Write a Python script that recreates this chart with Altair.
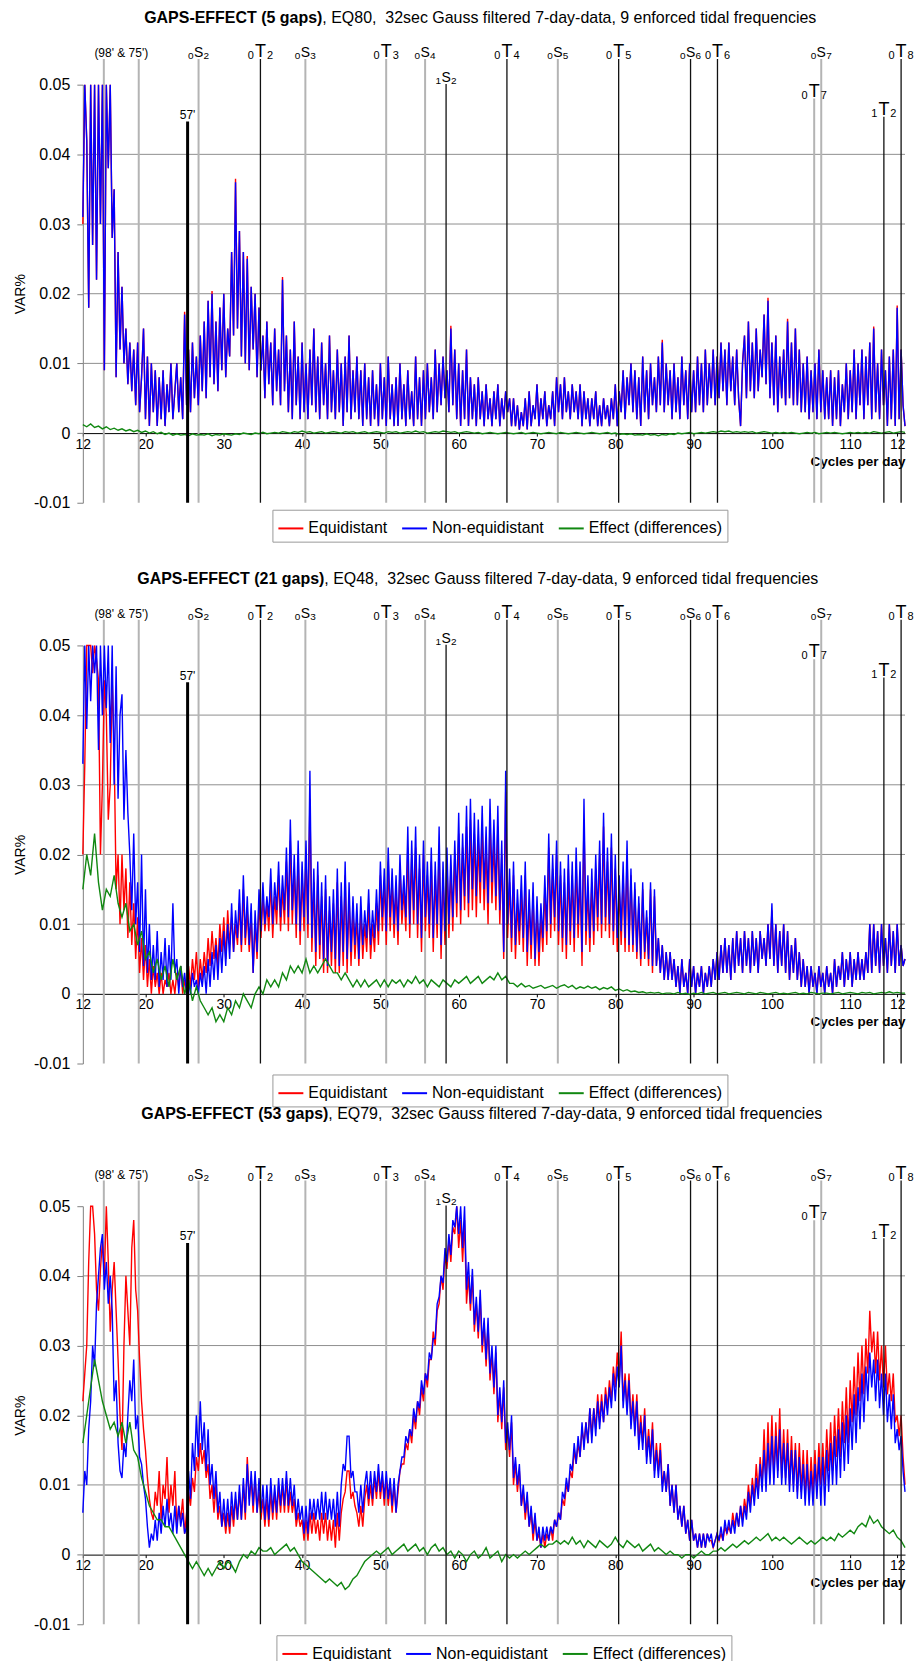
import altair as alt
import pandas as pd

FONT = "Liberation Sans"

# frequency grids (cycles per day)
FREQ = [12 + 0.5 * i for i in range(211)]        # 0.5 cpd spacing
FREQ_FINE = [12 + 0.25 * i for i in range(421)]  # 0.25 cpd spacing
X_DOMAIN = [12, 117]
Y_DOMAIN = [-0.01, 0.05]
X_TICKS = [12, 20, 30, 40, 50, 60, 70, 80, 90, 100, 110, 116]
Y_TICKS = [-0.01, 0, 0.01, 0.02, 0.03, 0.04, 0.05]
GRID_Y = [0.01, 0.02, 0.03, 0.04]

SERIES = ["Equidistant", "Non-equidistant", "Effect (differences)"]
COLORS = ["#ff0000", "#0000ff", "#118811"]

# ---------------- panel 1 (5 gaps), 0.25 cpd ----------------
P1_EQUI = [
    0.030, 0.050, 0.042, 0.018, 0.050, 0.027, 0.050, 0.022, 0.050, 0.030, 0.050, 0.009, 0.050, 0.038, 0.050, 0.028, 0.035, 0.008, 0.026, 0.012,
    0.021, 0.010, 0.015, 0.007, 0.013, 0.006, 0.012, 0.004, 0.013, 0.003, 0.008, 0.015, 0.002, 0.011, 0.001, 0.010, 0.003, 0.009, 0.001, 0.008,
    0.002, 0.009, 0.001, 0.007, 0.003, 0.010, 0.002, 0.006, 0.010, 0.003, 0.008, 0.002, 0.0174, 0.004, 0.012, 0.003, 0.013, 0.005, 0.011, 0.004,
    0.014, 0.006, 0.016, 0.005, 0.019, 0.008, 0.0204, 0.007, 0.016, 0.006, 0.018, 0.009, 0.020, 0.008, 0.015, 0.011, 0.026, 0.014, 0.0365, 0.015,
    0.029, 0.011, 0.026, 0.010, 0.0254, 0.009, 0.021, 0.012, 0.020, 0.008, 0.018, 0.009, 0.014, 0.005, 0.016, 0.007, 0.013, 0.004, 0.015, 0.006,
    0.012, 0.004, 0.0224, 0.006, 0.014, 0.003, 0.012, 0.002, 0.016, 0.004, 0.011, 0.002, 0.013, 0.003, 0.010, 0.002, 0.012, 0.004, 0.015, 0.003,
    0.011, 0.002, 0.013, 0.004, 0.010, 0.002, 0.014, 0.003, 0.009, 0.002, 0.012, 0.003, 0.010, 0.001, 0.011, 0.003, 0.014, 0.002, 0.009, 0.003,
    0.011, 0.002, 0.009, 0.001, 0.010, 0.002, 0.008, 0.001, 0.009, 0.002, 0.007, 0.001, 0.010, 0.002, 0.008, 0.001, 0.011, 0.002, 0.007, 0.001,
    0.008, 0.001, 0.010, 0.002, 0.007, 0.001, 0.009, 0.002, 0.006, 0.001, 0.011, 0.002, 0.008, 0.001, 0.009, 0.002, 0.010, 0.003, 0.008, 0.002,
    0.012, 0.003, 0.010, 0.004, 0.011, 0.005, 0.009, 0.003, 0.0154, 0.004, 0.012, 0.002, 0.010, 0.001, 0.009, 0.002, 0.012, 0.001, 0.008, 0.002,
    0.007, 0.001, 0.008, 0.002, 0.006, 0.001, 0.007, 0.002, 0.005, 0.001, 0.006, 0.002, 0.007, 0.001, 0.005, 0.002, 0.006, 0.003, 0.005, 0.001,
    0.005, 0.001, 0.004, 0.0005, 0.003, 0.001, 0.005, 0.0005, 0.006, 0.001, 0.004, 0.002, 0.007, 0.001, 0.005, 0.002, 0.006, 0.001, 0.004, 0.002,
    0.006, 0.001, 0.008, 0.003, 0.007, 0.002, 0.008, 0.003, 0.006, 0.002, 0.007, 0.003, 0.006, 0.002, 0.007, 0.001, 0.006, 0.002, 0.005, 0.001,
    0.005, 0.002, 0.006, 0.001, 0.004, 0.001, 0.005, 0.002, 0.004, 0.001, 0.005, 0.002, 0.007, 0.001, 0.006, 0.003, 0.009, 0.002, 0.008, 0.004,
    0.010, 0.003, 0.009, 0.002, 0.008, 0.001, 0.011, 0.003, 0.009, 0.002, 0.010, 0.004, 0.008, 0.003, 0.011, 0.004, 0.0134, 0.003, 0.010, 0.004,
    0.009, 0.002, 0.010, 0.003, 0.008, 0.002, 0.011, 0.004, 0.009, 0.002, 0.010, 0.003, 0.009, 0.003, 0.011, 0.004, 0.010, 0.003, 0.012, 0.004,
    0.010, 0.005, 0.012, 0.004, 0.011, 0.005, 0.013, 0.006, 0.012, 0.004, 0.013, 0.006, 0.011, 0.004, 0.012, 0.005, 0.001, 0.010, 0.014, 0.005,
    0.016, 0.006, 0.013, 0.005, 0.015, 0.006, 0.012, 0.008, 0.017, 0.007, 0.0194, 0.005, 0.013, 0.004, 0.014, 0.003, 0.011, 0.005, 0.012, 0.004,
    0.0164, 0.005, 0.013, 0.004, 0.015, 0.004, 0.012, 0.003, 0.010, 0.003, 0.011, 0.002, 0.009, 0.003, 0.010, 0.002, 0.012, 0.003, 0.009, 0.002,
    0.008, 0.002, 0.009, 0.001, 0.008, 0.002, 0.009, 0.001, 0.007, 0.003, 0.010, 0.002, 0.009, 0.003, 0.012, 0.002, 0.010, 0.004, 0.012, 0.002,
    0.011, 0.004, 0.013, 0.002, 0.0153, 0.003, 0.010, 0.002, 0.012, 0.004, 0.009, 0.001, 0.011, 0.002, 0.012, 0.001, 0.0183, 0.002, 0.012, 0.004,
    0.001,
]
P1_NONEQ = [
    0.031, 0.050, 0.042, 0.018, 0.050, 0.027, 0.050, 0.022, 0.050, 0.030, 0.050, 0.009, 0.050, 0.038, 0.050, 0.028, 0.035, 0.008, 0.026, 0.012,
    0.021, 0.010, 0.015, 0.007, 0.013, 0.006, 0.012, 0.004, 0.013, 0.003, 0.008, 0.015, 0.002, 0.011, 0.001, 0.010, 0.003, 0.009, 0.001, 0.008,
    0.002, 0.009, 0.001, 0.007, 0.003, 0.010, 0.002, 0.006, 0.010, 0.003, 0.008, 0.002, 0.017, 0.004, 0.012, 0.003, 0.013, 0.005, 0.011, 0.004,
    0.014, 0.006, 0.016, 0.005, 0.019, 0.008, 0.020, 0.007, 0.016, 0.006, 0.018, 0.009, 0.020, 0.008, 0.015, 0.011, 0.026, 0.014, 0.036, 0.015,
    0.029, 0.011, 0.026, 0.010, 0.025, 0.009, 0.021, 0.012, 0.020, 0.008, 0.018, 0.009, 0.014, 0.005, 0.016, 0.007, 0.013, 0.004, 0.015, 0.006,
    0.012, 0.004, 0.022, 0.006, 0.014, 0.003, 0.012, 0.002, 0.016, 0.004, 0.011, 0.002, 0.013, 0.003, 0.010, 0.002, 0.012, 0.004, 0.015, 0.003,
    0.011, 0.002, 0.013, 0.004, 0.010, 0.002, 0.014, 0.003, 0.009, 0.002, 0.012, 0.003, 0.010, 0.001, 0.011, 0.003, 0.014, 0.002, 0.009, 0.003,
    0.011, 0.002, 0.009, 0.001, 0.010, 0.002, 0.008, 0.001, 0.009, 0.002, 0.007, 0.001, 0.010, 0.002, 0.008, 0.001, 0.011, 0.002, 0.007, 0.001,
    0.008, 0.001, 0.010, 0.002, 0.007, 0.001, 0.009, 0.002, 0.006, 0.001, 0.011, 0.002, 0.008, 0.001, 0.009, 0.002, 0.010, 0.003, 0.008, 0.002,
    0.012, 0.003, 0.010, 0.004, 0.011, 0.005, 0.009, 0.003, 0.015, 0.004, 0.012, 0.002, 0.010, 0.001, 0.009, 0.002, 0.012, 0.001, 0.008, 0.002,
    0.007, 0.001, 0.008, 0.002, 0.006, 0.001, 0.007, 0.002, 0.005, 0.001, 0.006, 0.002, 0.007, 0.001, 0.005, 0.002, 0.006, 0.003, 0.005, 0.001,
    0.005, 0.001, 0.004, 0.0005, 0.003, 0.001, 0.005, 0.0005, 0.006, 0.001, 0.004, 0.002, 0.007, 0.001, 0.005, 0.002, 0.006, 0.001, 0.004, 0.002,
    0.006, 0.001, 0.008, 0.003, 0.007, 0.002, 0.008, 0.003, 0.006, 0.002, 0.007, 0.003, 0.006, 0.002, 0.007, 0.001, 0.006, 0.002, 0.005, 0.001,
    0.005, 0.002, 0.006, 0.001, 0.004, 0.001, 0.005, 0.002, 0.004, 0.001, 0.005, 0.002, 0.007, 0.001, 0.006, 0.003, 0.009, 0.002, 0.008, 0.004,
    0.010, 0.003, 0.009, 0.002, 0.008, 0.001, 0.011, 0.003, 0.009, 0.002, 0.010, 0.004, 0.008, 0.003, 0.011, 0.004, 0.013, 0.003, 0.010, 0.004,
    0.009, 0.002, 0.010, 0.003, 0.008, 0.002, 0.011, 0.004, 0.009, 0.002, 0.010, 0.003, 0.009, 0.003, 0.011, 0.004, 0.010, 0.003, 0.012, 0.004,
    0.010, 0.005, 0.012, 0.004, 0.011, 0.005, 0.013, 0.006, 0.012, 0.004, 0.013, 0.006, 0.011, 0.004, 0.012, 0.005, 0.001, 0.010, 0.014, 0.005,
    0.016, 0.006, 0.013, 0.005, 0.015, 0.006, 0.012, 0.008, 0.017, 0.007, 0.019, 0.005, 0.013, 0.004, 0.014, 0.003, 0.011, 0.005, 0.012, 0.004,
    0.016, 0.005, 0.013, 0.004, 0.015, 0.004, 0.012, 0.003, 0.010, 0.003, 0.011, 0.002, 0.009, 0.003, 0.010, 0.002, 0.012, 0.003, 0.009, 0.002,
    0.008, 0.002, 0.009, 0.001, 0.008, 0.002, 0.009, 0.001, 0.007, 0.003, 0.010, 0.002, 0.009, 0.003, 0.012, 0.002, 0.010, 0.004, 0.012, 0.002,
    0.011, 0.004, 0.013, 0.002, 0.015, 0.003, 0.010, 0.002, 0.012, 0.004, 0.009, 0.001, 0.011, 0.002, 0.012, 0.001, 0.018, 0.002, 0.012, 0.004,
    0.001,
]
# 0.5 cpd
P1_EFFECT = [
    0.0012, 0.0009, 0.0013, 0.0008, 0.0010, 0.0006, 0.0009, 0.0005, 0.0007, 0.0004,
    0.0006, 0.0003, 0.0005, 0.0002, 0.0004, 0.0001, 0.0003, 0.0000, 0.0002, -0.0001,
    0.0001, -0.0002, 0.0000, -0.0003, -0.0001, -0.0003, -0.0002, -0.0004, -0.0001, -0.0003,
    -0.0002, -0.0003, -0.0001, -0.0004, -0.0002, -0.0003, -0.0001, -0.0002, -0.0003, -0.0001,
    -0.0002, 0.0000, -0.0001, -0.0002, 0.0000, -0.0001, 0.0001, -0.0001, 0.0000, 0.0001,
    0.0000, 0.0002, 0.0001, 0.0000, 0.0002, 0.0001, 0.0003, 0.0001, 0.0002, 0.0000,
    0.0001, 0.0002, 0.0000, 0.0001, 0.0002, 0.0001, 0.0000, 0.0002, 0.0001, 0.0002,
    0.0000, 0.0001, 0.0002, 0.0000, 0.0001, 0.0002, 0.0001, 0.0000, 0.0002, 0.0001,
    0.0002, 0.0000, 0.0001, 0.0002, 0.0001, 0.0003, 0.0001, 0.0002, 0.0000, 0.0001,
    0.0002, 0.0001, 0.0003, 0.0002, 0.0001, 0.0002, 0.0000, 0.0001, 0.0002, 0.0001,
    0.0000, 0.0001, -0.0001, 0.0000, 0.0001, 0.0000, -0.0001, 0.0000, 0.0001, 0.0000,
    -0.0001, 0.0000, 0.0001, -0.0001, 0.0000, 0.0001, 0.0000, -0.0001, 0.0000, 0.0001,
    0.0000, -0.0001, 0.0001, 0.0000, -0.0001, 0.0000, 0.0001, 0.0000, -0.0001, 0.0000,
    0.0001, 0.0000, -0.0001, 0.0000, 0.0001, -0.0001, 0.0000, -0.0002, -0.0001, -0.0002,
    -0.0001, -0.0003, -0.0002, -0.0003, -0.0001, -0.0003, -0.0002, -0.0004, -0.0002, -0.0003,
    -0.0001, -0.0002, 0.0000, -0.0001, 0.0000, 0.0001, -0.0001, 0.0000, 0.0001, 0.0000,
    0.0001, 0.0002, 0.0001, 0.0003, 0.0002, 0.0003, 0.0001, 0.0002, 0.0001, 0.0002,
    0.0001, 0.0002, 0.0000, 0.0001, 0.0002, 0.0001, 0.0000, 0.0001, 0.0000, 0.0001,
    0.0000, 0.0001, 0.0000, -0.0001, 0.0000, 0.0001, 0.0000, 0.0001, -0.0001, 0.0000,
    0.0001, 0.0000, 0.0001, 0.0000, -0.0001, 0.0000, 0.0001, 0.0000, 0.0001, 0.0000,
    0.0001, 0.0000, 0.0002, 0.0001, 0.0000, 0.0001, 0.0002, 0.0000, 0.0001, 0.0002,
    0.0001,
]

# ---------------- panel 2 (21 gaps), 0.25 cpd ----------------
P2_EQUI = [
    0.020, 0.033, 0.050, 0.050, 0.050, 0.046, 0.050, 0.048, 0.045, 0.020, 0.030, 0.045, 0.040, 0.025, 0.030, 0.045, 0.035, 0.015, 0.020, 0.010,
    0.020, 0.012, 0.018, 0.008, 0.016, 0.007, 0.013, 0.005, 0.011, 0.003, 0.008, 0.002, 0.007, 0.001, 0.005, 0.000, 0.004, 0.001, 0.003, 0.000,
    0.003, 0.000, 0.002, 0.001, 0.003, 0.000, 0.002, 0.000, 0.003, 0.001, 0.004, 0.000, 0.002, 0.000, 0.004, 0.001, 0.005, 0.002, 0.006, 0.001,
    0.005, 0.002, 0.006, 0.003, 0.008, 0.004, 0.009, 0.005, 0.008, 0.004, 0.010, 0.006, 0.011, 0.005, 0.012, 0.007, 0.011, 0.006, 0.010, 0.007,
    0.013, 0.006, 0.015, 0.007, 0.012, 0.006, 0.011, 0.003, 0.010, 0.005, 0.013, 0.008, 0.014, 0.009, 0.013, 0.009, 0.016, 0.008, 0.014, 0.010,
    0.017, 0.009, 0.015, 0.010, 0.019, 0.009, 0.022, 0.010, 0.018, 0.008, 0.020, 0.007, 0.017, 0.009, 0.020, 0.008, 0.028, 0.006, 0.016, 0.004,
    0.017, 0.005, 0.014, 0.003, 0.015, 0.003, 0.012, 0.004, 0.013, 0.003, 0.016, 0.003, 0.014, 0.004, 0.017, 0.003, 0.014, 0.004, 0.012, 0.005,
    0.011, 0.004, 0.012, 0.005, 0.010, 0.006, 0.013, 0.005, 0.010, 0.006, 0.013, 0.007, 0.017, 0.009, 0.016, 0.007, 0.019, 0.009, 0.016, 0.008,
    0.015, 0.007, 0.018, 0.010, 0.015, 0.009, 0.021, 0.008, 0.020, 0.010, 0.021, 0.008, 0.018, 0.006, 0.020, 0.009, 0.017, 0.008, 0.019, 0.006,
    0.017, 0.008, 0.021, 0.005, 0.017, 0.007, 0.019, 0.008, 0.018, 0.009, 0.020, 0.011, 0.023, 0.010, 0.021, 0.012, 0.024, 0.011, 0.025, 0.012,
    0.023, 0.011, 0.022, 0.013, 0.024, 0.012, 0.021, 0.010, 0.025, 0.013, 0.022, 0.012, 0.024, 0.010, 0.020, 0.005, 0.029, 0.008, 0.016, 0.006,
    0.017, 0.005, 0.013, 0.007, 0.015, 0.006, 0.017, 0.004, 0.013, 0.005, 0.014, 0.004, 0.012, 0.004, 0.011, 0.006, 0.015, 0.007, 0.021, 0.008,
    0.018, 0.009, 0.020, 0.007, 0.017, 0.006, 0.016, 0.005, 0.018, 0.007, 0.017, 0.006, 0.019, 0.008, 0.017, 0.004, 0.025, 0.007, 0.015, 0.006,
    0.016, 0.007, 0.018, 0.009, 0.020, 0.008, 0.024, 0.009, 0.019, 0.008, 0.021, 0.007, 0.018, 0.006, 0.015, 0.007, 0.017, 0.006, 0.020, 0.006,
    0.017, 0.006, 0.015, 0.005, 0.013, 0.004, 0.015, 0.005, 0.011, 0.004, 0.015, 0.003, 0.014, 0.004, 0.008, 0.003, 0.007, 0.002, 0.006, 0.002,
    0.006, 0.002, 0.005, 0.001, 0.004, 0.000, 0.005, 0.001, 0.003, 0.000, 0.005, 0.001, 0.004, 0.000, 0.003, 0.001, 0.004, 0.000, 0.003, 0.001,
    0.004, 0.001, 0.005, 0.002, 0.006, 0.002, 0.007, 0.003, 0.008, 0.003, 0.007, 0.002, 0.008, 0.003, 0.009, 0.004, 0.008, 0.003, 0.009, 0.004,
    0.008, 0.003, 0.009, 0.004, 0.008, 0.003, 0.009, 0.005, 0.008, 0.004, 0.010, 0.005, 0.012, 0.004, 0.010, 0.003, 0.009, 0.004, 0.010, 0.003,
    0.009, 0.002, 0.007, 0.003, 0.008, 0.002, 0.006, 0.001, 0.005, 0.001, 0.004, 0.000, 0.004, 0.001, 0.003, 0.000, 0.004, 0.001, 0.003, 0.000,
    0.004, 0.001, 0.003, 0.000, 0.005, 0.001, 0.004, 0.002, 0.006, 0.001, 0.005, 0.002, 0.006, 0.001, 0.005, 0.002, 0.006, 0.002, 0.005, 0.002,
    0.006, 0.003, 0.010, 0.003, 0.010, 0.004, 0.009, 0.003, 0.010, 0.004, 0.008, 0.003, 0.010, 0.004, 0.009, 0.003, 0.010, 0.004, 0.007, 0.004,
    0.005,
]
P2_NONEQ = [
    0.033, 0.050, 0.038, 0.050, 0.042, 0.050, 0.046, 0.050, 0.035, 0.050, 0.040, 0.050, 0.041, 0.050, 0.036, 0.050, 0.030, 0.047, 0.028, 0.040,
    0.043, 0.025, 0.035, 0.026, 0.020, 0.012, 0.023, 0.010, 0.016, 0.006, 0.020, 0.004, 0.015, 0.003, 0.010, 0.002, 0.007, 0.002, 0.009, 0.001,
    0.006, 0.002, 0.008, 0.001, 0.007, 0.002, 0.013, 0.003, 0.005, 0.000, 0.004, 0.001, 0.003, 0.000, 0.002, 0.000, 0.003, 0.001, 0.002, 0.000,
    0.003, 0.001, 0.004, 0.000, 0.005, 0.001, 0.006, 0.002, 0.007, 0.002, 0.008, 0.003, 0.009, 0.004, 0.010, 0.005, 0.013, 0.006, 0.012, 0.008,
    0.015, 0.007, 0.017, 0.008, 0.014, 0.007, 0.013, 0.003, 0.012, 0.006, 0.015, 0.009, 0.016, 0.010, 0.014, 0.011, 0.018, 0.010, 0.016, 0.012,
    0.019, 0.011, 0.017, 0.012, 0.021, 0.011, 0.025, 0.012, 0.020, 0.010, 0.022, 0.009, 0.019, 0.011, 0.022, 0.010, 0.032, 0.008, 0.018, 0.006,
    0.019, 0.007, 0.016, 0.005, 0.017, 0.004, 0.014, 0.006, 0.015, 0.005, 0.018, 0.004, 0.016, 0.006, 0.019, 0.005, 0.016, 0.006, 0.014, 0.007,
    0.013, 0.005, 0.014, 0.007, 0.012, 0.008, 0.015, 0.007, 0.012, 0.008, 0.015, 0.009, 0.019, 0.011, 0.018, 0.009, 0.021, 0.011, 0.018, 0.010,
    0.017, 0.009, 0.020, 0.012, 0.017, 0.011, 0.024, 0.010, 0.022, 0.012, 0.024, 0.010, 0.020, 0.008, 0.022, 0.011, 0.019, 0.010, 0.021, 0.008,
    0.019, 0.010, 0.024, 0.007, 0.019, 0.009, 0.021, 0.010, 0.020, 0.011, 0.022, 0.013, 0.026, 0.012, 0.023, 0.014, 0.027, 0.013, 0.028, 0.015,
    0.026, 0.014, 0.025, 0.016, 0.027, 0.015, 0.024, 0.013, 0.028, 0.016, 0.025, 0.014, 0.027, 0.012, 0.022, 0.006, 0.032, 0.010, 0.018, 0.008,
    0.019, 0.007, 0.015, 0.009, 0.017, 0.008, 0.019, 0.006, 0.015, 0.007, 0.016, 0.005, 0.014, 0.006, 0.013, 0.008, 0.017, 0.009, 0.023, 0.010,
    0.020, 0.011, 0.022, 0.009, 0.019, 0.008, 0.018, 0.007, 0.020, 0.009, 0.019, 0.008, 0.021, 0.010, 0.019, 0.006, 0.028, 0.009, 0.017, 0.008,
    0.018, 0.009, 0.020, 0.011, 0.022, 0.010, 0.026, 0.011, 0.021, 0.010, 0.023, 0.009, 0.020, 0.008, 0.017, 0.009, 0.019, 0.008, 0.022, 0.007,
    0.018, 0.007, 0.016, 0.006, 0.014, 0.005, 0.016, 0.006, 0.012, 0.005, 0.016, 0.004, 0.015, 0.004, 0.008, 0.003, 0.007, 0.002, 0.006, 0.002,
    0.006, 0.002, 0.005, 0.001, 0.004, 0.000, 0.005, 0.001, 0.003, 0.000, 0.005, 0.001, 0.004, 0.000, 0.003, 0.001, 0.004, 0.000, 0.003, 0.001,
    0.004, 0.001, 0.005, 0.002, 0.006, 0.002, 0.007, 0.003, 0.008, 0.003, 0.007, 0.002, 0.008, 0.003, 0.009, 0.004, 0.008, 0.003, 0.009, 0.004,
    0.008, 0.003, 0.009, 0.004, 0.008, 0.003, 0.009, 0.005, 0.008, 0.004, 0.010, 0.005, 0.013, 0.004, 0.010, 0.003, 0.009, 0.004, 0.010, 0.003,
    0.009, 0.002, 0.007, 0.003, 0.008, 0.002, 0.006, 0.001, 0.005, 0.001, 0.004, 0.000, 0.004, 0.001, 0.003, 0.000, 0.004, 0.001, 0.003, 0.000,
    0.004, 0.001, 0.003, 0.000, 0.005, 0.001, 0.004, 0.002, 0.006, 0.001, 0.005, 0.002, 0.006, 0.001, 0.005, 0.002, 0.006, 0.002, 0.005, 0.002,
    0.006, 0.003, 0.010, 0.003, 0.010, 0.004, 0.009, 0.003, 0.010, 0.004, 0.008, 0.003, 0.010, 0.004, 0.009, 0.003, 0.010, 0.004, 0.007, 0.004,
    0.005,
]
# 0.5 cpd
P2_EFFECT = [
    0.015, 0.020, 0.017, 0.023, 0.016, 0.012, 0.015, 0.014, 0.017, 0.013,
    0.011, 0.013, 0.009, 0.010, 0.007, 0.009, 0.005, 0.006, 0.003, 0.005,
    0.002, 0.004, 0.001, 0.005, 0.002, 0.004, 0.000, 0.002, -0.001, 0.001,
    -0.001, -0.002, -0.003, -0.002, -0.004, -0.003, -0.004, -0.002, -0.003, -0.001,
    -0.002, 0.000, -0.001, -0.002, 0.000, 0.001, 0.000, 0.002, 0.001, 0.002,
    0.001, 0.003, 0.002, 0.004, 0.003, 0.004, 0.003, 0.005, 0.003, 0.004,
    0.003, 0.004, 0.005, 0.004, 0.003, 0.003, 0.002, 0.003, 0.002, 0.001,
    0.002, 0.001, 0.002, 0.001, 0.0015, 0.002, 0.001, 0.002, 0.001, 0.002,
    0.0015, 0.002, 0.001, 0.002, 0.0015, 0.0025, 0.0015, 0.002, 0.001, 0.002,
    0.0015, 0.001, 0.002, 0.0015, 0.001, 0.002, 0.0015, 0.002, 0.0025, 0.0015,
    0.002, 0.0025, 0.0015, 0.002, 0.0025, 0.002, 0.003, 0.002, 0.0025, 0.0015,
    0.0015, 0.001, 0.0015, 0.001, 0.0012, 0.0008, 0.001, 0.0012, 0.0008, 0.001,
    0.0012, 0.0008, 0.0011, 0.0013, 0.0009, 0.0012, 0.0007, 0.001, 0.0008, 0.0011,
    0.0008, 0.001, 0.0006, 0.0009, 0.0007, 0.001, 0.0005, 0.0007, 0.0004, 0.0006,
    0.0003, 0.0004, 0.0002, 0.0003, 0.0001, 0.0002, 0.0001, 0.0002, 0.0000, 0.0001,
    0.0001, 0.0000, 0.0002, 0.0000, 0.0001, -0.0001, 0.0001, 0.0000, 0.0002, 0.0000,
    0.0001, 0.0002, 0.0000, 0.0001, 0.0002, 0.0000, 0.0001, 0.0002, 0.0001, 0.0000,
    0.0002, 0.0001, 0.0000, 0.0002, 0.0001, 0.0000, 0.0001, 0.0002, 0.0000, 0.0001,
    0.0000, 0.0001, 0.0002, 0.0000, 0.0001, 0.0000, 0.0002, 0.0001, 0.0000, 0.0001,
    0.0001, 0.0000, 0.0001, 0.0002, 0.0000, 0.0001, 0.0002, 0.0001, 0.0000, 0.0002,
    0.0001, 0.0002, 0.0000, 0.0001, 0.0002, 0.0001, 0.0003, 0.0001, 0.0002, 0.0001,
    0.0001,
]

# ---------------- panel 3 (53 gaps), 0.25 cpd ----------------
P3_EQUI = [
    0.022, 0.026, 0.030, 0.042, 0.050, 0.050, 0.046, 0.038, 0.035, 0.041, 0.045, 0.040, 0.050, 0.042, 0.032, 0.038, 0.042, 0.035, 0.028, 0.020,
    0.015, 0.030, 0.040, 0.035, 0.030, 0.044, 0.048, 0.038, 0.035, 0.028, 0.022, 0.018, 0.015, 0.011, 0.008, 0.006, 0.005, 0.009, 0.007, 0.012,
    0.005, 0.010, 0.008, 0.014, 0.006, 0.010, 0.007, 0.012, 0.004, 0.007, 0.005, 0.008, 0.003, 0.006, 0.009, 0.007, 0.011, 0.009, 0.014, 0.012,
    0.016, 0.013, 0.015, 0.011, 0.013, 0.008, 0.010, 0.006, 0.010, 0.005, 0.007, 0.004, 0.006, 0.003, 0.006, 0.003, 0.007, 0.004, 0.008, 0.005,
    0.009, 0.005, 0.010, 0.005, 0.014, 0.008, 0.011, 0.006, 0.011, 0.006, 0.009, 0.005, 0.008, 0.004, 0.008, 0.004, 0.009, 0.005, 0.009, 0.005,
    0.010, 0.006, 0.010, 0.006, 0.011, 0.006, 0.009, 0.006, 0.008, 0.004, 0.006, 0.004, 0.005, 0.002, 0.005, 0.002, 0.006, 0.003, 0.006, 0.003,
    0.005, 0.002, 0.006, 0.003, 0.006, 0.002, 0.005, 0.002, 0.005, 0.001, 0.006, 0.002, 0.006, 0.008, 0.009, 0.012, 0.012, 0.008, 0.009, 0.007,
    0.006, 0.004, 0.007, 0.004, 0.008, 0.010, 0.007, 0.010, 0.007, 0.011, 0.008, 0.012, 0.008, 0.011, 0.007, 0.011, 0.007, 0.010, 0.006, 0.010,
    0.006, 0.009, 0.012, 0.013, 0.013, 0.016, 0.015, 0.018, 0.016, 0.020, 0.018, 0.022, 0.020, 0.024, 0.022, 0.026, 0.024, 0.028, 0.028, 0.032,
    0.030, 0.035, 0.036, 0.040, 0.038, 0.043, 0.041, 0.045, 0.042, 0.047, 0.046, 0.050, 0.044, 0.048, 0.042, 0.048, 0.036, 0.040, 0.035, 0.040,
    0.032, 0.036, 0.031, 0.037, 0.029, 0.033, 0.027, 0.033, 0.025, 0.029, 0.023, 0.029, 0.019, 0.023, 0.018, 0.024, 0.015, 0.018, 0.014, 0.019,
    0.010, 0.013, 0.009, 0.012, 0.007, 0.009, 0.005, 0.008, 0.004, 0.006, 0.002, 0.005, 0.002, 0.003, 0.001, 0.003, 0.001, 0.003, 0.002, 0.004,
    0.002, 0.005, 0.004, 0.006, 0.005, 0.008, 0.007, 0.010, 0.009, 0.012, 0.011, 0.015, 0.013, 0.016, 0.014, 0.018, 0.016, 0.019, 0.016, 0.021,
    0.017, 0.021, 0.018, 0.023, 0.019, 0.023, 0.019, 0.024, 0.021, 0.025, 0.022, 0.027, 0.024, 0.029, 0.025, 0.032, 0.022, 0.026, 0.021, 0.026,
    0.019, 0.023, 0.018, 0.023, 0.016, 0.020, 0.016, 0.021, 0.014, 0.018, 0.014, 0.019, 0.012, 0.016, 0.012, 0.016, 0.010, 0.012, 0.009, 0.013,
    0.007, 0.010, 0.006, 0.010, 0.005, 0.007, 0.004, 0.007, 0.003, 0.005, 0.002, 0.005, 0.002, 0.003, 0.001, 0.003, 0.001, 0.003, 0.001, 0.003,
    0.002, 0.002, 0.001, 0.002, 0.003, 0.002, 0.003, 0.002, 0.004, 0.003, 0.004, 0.003, 0.006, 0.004, 0.006, 0.004, 0.007, 0.005, 0.008, 0.006,
    0.010, 0.007, 0.011, 0.008, 0.013, 0.009, 0.014, 0.010, 0.018, 0.010, 0.019, 0.011, 0.020, 0.011, 0.019, 0.012, 0.021, 0.011, 0.018, 0.011,
    0.018, 0.010, 0.017, 0.010, 0.016, 0.009, 0.016, 0.009, 0.015, 0.008, 0.015, 0.008, 0.014, 0.009, 0.015, 0.009, 0.016, 0.010, 0.016, 0.010,
    0.018, 0.012, 0.019, 0.012, 0.020, 0.014, 0.021, 0.014, 0.022, 0.016, 0.024, 0.016, 0.025, 0.019, 0.027, 0.020, 0.029, 0.022, 0.030, 0.023,
    0.031, 0.026, 0.035, 0.029, 0.032, 0.026, 0.032, 0.025, 0.030, 0.024, 0.030, 0.023, 0.026, 0.022, 0.026, 0.019, 0.020, 0.017, 0.020, 0.014,
    0.010,
]
P3_NONEQ = [
    0.006, 0.012, 0.010, 0.018, 0.022, 0.030, 0.027, 0.036, 0.040, 0.044, 0.046, 0.038, 0.042, 0.036, 0.040, 0.035, 0.022, 0.025, 0.016, 0.012,
    0.011, 0.016, 0.014, 0.020, 0.025, 0.022, 0.028, 0.018, 0.020, 0.014, 0.013, 0.010, 0.008, 0.004, 0.001, 0.003, 0.002, 0.005, 0.002, 0.006,
    0.003, 0.007, 0.004, 0.008, 0.004, 0.006, 0.003, 0.007, 0.003, 0.007, 0.004, 0.006, 0.003, 0.004, 0.012, 0.008, 0.016, 0.012, 0.020, 0.014,
    0.022, 0.015, 0.019, 0.012, 0.018, 0.010, 0.013, 0.008, 0.012, 0.006, 0.009, 0.004, 0.008, 0.004, 0.008, 0.004, 0.009, 0.005, 0.009, 0.005,
    0.010, 0.005, 0.011, 0.006, 0.013, 0.007, 0.012, 0.007, 0.012, 0.006, 0.011, 0.006, 0.010, 0.005, 0.010, 0.005, 0.011, 0.006, 0.010, 0.006,
    0.011, 0.007, 0.011, 0.007, 0.012, 0.007, 0.011, 0.007, 0.010, 0.005, 0.008, 0.005, 0.007, 0.003, 0.007, 0.003, 0.008, 0.005, 0.008, 0.005,
    0.008, 0.005, 0.009, 0.005, 0.009, 0.005, 0.008, 0.005, 0.008, 0.004, 0.009, 0.004, 0.010, 0.013, 0.012, 0.017, 0.017, 0.011, 0.012, 0.009,
    0.009, 0.006, 0.010, 0.006, 0.010, 0.012, 0.008, 0.012, 0.008, 0.012, 0.009, 0.013, 0.009, 0.012, 0.008, 0.012, 0.008, 0.011, 0.007, 0.011,
    0.006, 0.010, 0.012, 0.014, 0.014, 0.017, 0.016, 0.018, 0.017, 0.021, 0.019, 0.022, 0.021, 0.025, 0.023, 0.026, 0.025, 0.029, 0.028, 0.031,
    0.031, 0.036, 0.037, 0.040, 0.039, 0.044, 0.042, 0.046, 0.043, 0.048, 0.047, 0.050, 0.046, 0.050, 0.044, 0.050, 0.038, 0.042, 0.036, 0.041,
    0.033, 0.037, 0.032, 0.038, 0.030, 0.034, 0.028, 0.034, 0.026, 0.030, 0.024, 0.030, 0.020, 0.024, 0.019, 0.025, 0.016, 0.019, 0.015, 0.020,
    0.011, 0.014, 0.010, 0.013, 0.007, 0.010, 0.006, 0.009, 0.004, 0.007, 0.003, 0.006, 0.002, 0.004, 0.001, 0.004, 0.002, 0.004, 0.002, 0.004,
    0.003, 0.005, 0.004, 0.006, 0.005, 0.009, 0.008, 0.011, 0.009, 0.013, 0.012, 0.016, 0.013, 0.017, 0.014, 0.019, 0.015, 0.019, 0.016, 0.021,
    0.016, 0.021, 0.017, 0.022, 0.018, 0.022, 0.019, 0.023, 0.020, 0.024, 0.021, 0.026, 0.022, 0.027, 0.024, 0.030, 0.021, 0.025, 0.020, 0.025,
    0.018, 0.022, 0.017, 0.022, 0.015, 0.019, 0.015, 0.020, 0.013, 0.017, 0.013, 0.018, 0.011, 0.015, 0.011, 0.015, 0.009, 0.012, 0.009, 0.013,
    0.007, 0.010, 0.006, 0.010, 0.005, 0.007, 0.004, 0.007, 0.003, 0.005, 0.002, 0.005, 0.002, 0.003, 0.001, 0.003, 0.001, 0.003, 0.001, 0.003,
    0.002, 0.003, 0.001, 0.002, 0.003, 0.002, 0.004, 0.002, 0.005, 0.003, 0.005, 0.003, 0.005, 0.003, 0.006, 0.004, 0.007, 0.004, 0.007, 0.005,
    0.009, 0.006, 0.010, 0.007, 0.011, 0.008, 0.013, 0.009, 0.015, 0.009, 0.016, 0.010, 0.017, 0.010, 0.017, 0.011, 0.018, 0.010, 0.016, 0.010,
    0.016, 0.009, 0.015, 0.009, 0.015, 0.008, 0.014, 0.008, 0.013, 0.007, 0.013, 0.007, 0.012, 0.007, 0.013, 0.008, 0.014, 0.007, 0.014, 0.007,
    0.015, 0.009, 0.016, 0.010, 0.017, 0.010, 0.018, 0.011, 0.019, 0.012, 0.020, 0.013, 0.021, 0.015, 0.023, 0.016, 0.024, 0.018, 0.026, 0.019,
    0.027, 0.022, 0.029, 0.024, 0.028, 0.022, 0.028, 0.021, 0.026, 0.020, 0.026, 0.019, 0.023, 0.018, 0.023, 0.016, 0.018, 0.015, 0.017, 0.012,
    0.009,
]
# 0.5 cpd
P3_EFFECT = [
    0.016, 0.020, 0.024, 0.028, 0.025, 0.022, 0.020, 0.018, 0.019, 0.017,
    0.019, 0.016, 0.019, 0.015, 0.014, 0.011, 0.009, 0.007, 0.006, 0.005,
    0.005, 0.004, 0.004, 0.003, 0.002, 0.001, 0.000, -0.001, -0.002, -0.001,
    -0.002, -0.003, -0.002, -0.003, -0.002, -0.001, -0.002, -0.001, -0.0015, -0.0025,
    -0.001, 0.000, -0.0005, 0.0005, 0.000, 0.001, 0.0005, 0.0005, 0.001, 0.000,
    0.0005, 0.001, 0.0015, 0.0005, 0.001, 0.000, -0.001, -0.0015, -0.002, -0.0025,
    -0.003, -0.0035, -0.004, -0.0035, -0.004, -0.0045, -0.004, -0.005, -0.0045, -0.0035,
    -0.003, -0.002, -0.001, -0.0005, 0.000, 0.0005, 0.000, 0.0005, 0.001, 0.000,
    0.0005, 0.001, 0.0015, 0.0005, 0.001, 0.0015, 0.0005, 0.001, 0.000, 0.001,
    0.0015, 0.0005, 0.001, 0.000, 0.0005, -0.0005, 0.0005, 0.000, -0.001, 0.000,
    0.0005, -0.0005, 0.000, 0.001, -0.0005, 0.000, 0.0005, -0.001, 0.000, -0.0005,
    0.000, -0.0005, 0.000, 0.0005, 0.000, 0.0005, 0.001, 0.0015, 0.001, 0.0015,
    0.0015, 0.002, 0.0015, 0.002, 0.0015, 0.0025, 0.0015, 0.002, 0.001, 0.002,
    0.0015, 0.001, 0.002, 0.0015, 0.001, 0.0015, 0.0025, 0.0015, 0.001, 0.002,
    0.0015, 0.001, 0.0015, 0.0005, 0.001, 0.0015, 0.0005, 0.001, 0.0005, 0.000,
    0.0005, 0.000, 0.000, -0.0005, 0.000, 0.000, -0.0005, 0.000, 0.0005, 0.000,
    0.000, 0.0005, 0.0005, 0.001, 0.0005, 0.001, 0.0015, 0.001, 0.0015, 0.002,
    0.0015, 0.002, 0.0025, 0.002, 0.0025, 0.003, 0.002, 0.0025, 0.002, 0.0025,
    0.002, 0.0015, 0.002, 0.0025, 0.002, 0.0015, 0.002, 0.0015, 0.002, 0.0025,
    0.002, 0.0025, 0.002, 0.003, 0.0025, 0.003, 0.0035, 0.003, 0.004, 0.0045,
    0.004, 0.0055, 0.0045, 0.005, 0.004, 0.0035, 0.003, 0.0035, 0.0025, 0.002,
    0.001,
]

# ---------------- tidal / oscillation marker lines ----------------
TIDE_FREQ = [14.68, 19.14, 25.38, 26.78, 34.68, 40.42, 50.74, 55.71, 58.39,
             66.16, 72.66, 80.43, 89.61, 93.05, 105.4, 106.3, 114.3, 116.5]
TIDE_TOP = [0.0537, 0.0537, 0.0447, 0.0537, 0.0537, 0.0537, 0.0537, 0.0537, 0.0501,
            0.0537, 0.0537, 0.0537, 0.0537, 0.0537, 0.0480, 0.0537, 0.0454, 0.0537]
TIDE_STYLE = ["g", "g", "K", "g", "k", "g", "g", "g", "k",
              "k", "g", "k", "k", "k", "g", "g", "k", "k"]

LBL_FREQ = [26.78, 34.68, 40.42, 50.74, 55.71, 58.39, 66.16, 72.66, 80.43,
            89.61, 93.05, 105.4, 106.3, 114.3, 116.5]
LBL_PRE = ["0", "0", "0", "0", "0", "1", "0", "0", "0", "0", "0", "0", "0", "1", "0"]
LBL_MAIN = ["S", "T", "S", "T", "S", "S", "T", "S", "T", "S", "T", "T", "S", "T", "T"]
LBL_SUB = ["2", "2", "3", "3", "4", "2", "4", "5", "5", "6", "6", "7", "7", "2", "8"]
LBL_BASE = [0.0539, 0.0539, 0.0539, 0.0539, 0.0539, 0.0504, 0.0539, 0.0539, 0.0539,
            0.0539, 0.0539, 0.0483, 0.0539, 0.0456, 0.0539]

NOTE_TEXT = ["(98' & 75')", "57'"]
NOTE_FREQ = [16.91, 25.38]
NOTE_Y = [0.0539, 0.0451]

TITLE_BOLD = ["GAPS-EFFECT (5 gaps)", "GAPS-EFFECT (21 gaps)", "GAPS-EFFECT (53 gaps)"]
TITLE_REST = [", EQ80,\u00a0 32sec Gauss filtered 7-day-data, 9 enforced tidal frequencies",
              ", EQ48,\u00a0 32sec Gauss filtered 7-day-data, 9 enforced tidal frequencies",
              ", EQ79,\u00a0 32sec Gauss filtered 7-day-data, 9 enforced tidal frequencies"]
TITLE_Y = [0.0595, 0.0595, 0.0633]
TITLE_SPLIT = [42.59, 42.84, 43.35]
LEGEND_X = [190, 190, 194]
LEGEND_Y = [426, 430, 430]

W, H = 824, 419


def series_frame(values, name):
    grid = FREQ_FINE if len(values) > len(FREQ) else FREQ
    n = min(len(values), len(grid))
    return pd.DataFrame({"freq": grid[:n], "value": values[:n], "series": [name] * n})


def make_panel(equi, noneq, effect, k):
    xs = alt.Scale(domain=X_DOMAIN, nice=False, zero=False)
    ys = alt.Scale(domain=Y_DOMAIN, nice=False, zero=False)
    x_axis = alt.Axis(values=X_TICKS, labelExpr="datum.value > 115 ? '12' : datum.label",
                      offset=-69.8, orient="bottom", grid=False, domainColor="#000000",
                      domainWidth=1, tickColor="#000000", tickSize=3, labelFontSize=14,
                      labelColor="#000000", labelPadding=1, labelFlush=False, labelOverlap=False,
                      title="Cycles per day", titleFontSize=13.5, titleFontWeight="bold",
                      titleColor="#000000", titleAnchor="end", titlePadding=3)
    y_axis = alt.Axis(values=Y_TICKS,
                      labelExpr="datum.value == 0 ? '0' : (datum.value < 0 ? '-' + format(-datum.value, '.2f') : format(datum.value, '.2f'))",
                      grid=False, domainColor="#808080", tickColor="#808080", tickSize=6,
                      labelFontSize=16, labelColor="#000000", labelPadding=7,
                      title="VAR%", titleFontSize=14, titleFontWeight="normal",
                      titleColor="#000000", titlePadding=6)
    legend = alt.Legend(orient="none", legendX=LEGEND_X[k], legendY=LEGEND_Y[k],
                        direction="horizontal", title=None, symbolType="stroke",
                        symbolStrokeWidth=2, symbolSize=625, labelFontSize=16,
                        labelColor="#000000", strokeColor="#9a9a9a", fillColor="#ffffff",
                        padding=5, columnPadding=10, labelOffset=4)
    color = alt.Color("series:N", scale=alt.Scale(domain=SERIES, range=COLORS), legend=legend)

    def X(field):
        return alt.X(field, type="quantitative", scale=xs, axis=x_axis)

    def Y(field):
        return alt.Y(field, type="quantitative", scale=ys, axis=y_axis)

    grid = alt.Chart(pd.DataFrame({"value": GRID_Y})).mark_rule(
        color="#8f8f8f", strokeWidth=1).encode(y=Y("value"))

    tide = pd.DataFrame({"freq": TIDE_FREQ, "top": TIDE_TOP, "style": TIDE_STYLE,
                         "bottom": [Y_DOMAIN[0]] * len(TIDE_FREQ)})

    def rules(style, colr, width):
        return alt.Chart(tide).transform_filter(f"datum.style == '{style}'").mark_rule(
            color=colr, strokeWidth=width).encode(
            x=X("freq"), y=Y("top"), y2="bottom:Q")

    def line(vals, name):
        return alt.Chart(series_frame(vals, name)).mark_line(strokeWidth=1.4).encode(
            x=X("freq"), y=Y("value"), color=color)

    lbl = pd.DataFrame({"freq": LBL_FREQ, "pre": LBL_PRE, "main": LBL_MAIN,
                        "sub": LBL_SUB, "base": LBL_BASE})

    def label_part(letter, field, size, align, dx, dy):
        return alt.Chart(lbl).transform_filter(f"datum.main == '{letter}'").mark_text(
            fontSize=size, align=align, baseline="alphabetic", dx=dx, dy=dy,
            color="#000000").encode(x=X("freq"), y=Y("base"), text=f"{field}:N")

    notes = alt.Chart(pd.DataFrame({"freq": NOTE_FREQ, "y": NOTE_Y, "t": NOTE_TEXT})).mark_text(
        fontSize=12, align="center", baseline="alphabetic", color="#000000").encode(
        x=X("freq"), y=Y("y"), text="t:N")

    tdf = pd.DataFrame({"freq": [TITLE_SPLIT[k]], "y": [TITLE_Y[k]],
                        "b": [TITLE_BOLD[k]], "r": [TITLE_REST[k]]})
    title_b = alt.Chart(tdf).mark_text(fontSize=16, fontWeight="bold", align="right",
                                       baseline="middle", color="#000000").encode(
        x=X("freq"), y=Y("y"), text="b:N")
    title_r = alt.Chart(tdf).mark_text(fontSize=16, align="left",
                                       baseline="middle", color="#000000").encode(
        x=X("freq"), y=Y("y"), text="r:N")

    layers = [
        grid,
        rules("g", "#b4b4b4", 2),
        line(equi, SERIES[0]),
        line(noneq, SERIES[1]),
        line(effect, SERIES[2]),
        rules("k", "#111111", 1.3),
        rules("K", "#000000", 3),
        notes,
        label_part("S", "main", 14, "center", 0, 0),
        label_part("S", "pre", 10, "right", -5, 2),
        label_part("S", "sub", 10, "left", 5, 2),
        label_part("T", "main", 18, "center", 0, 0),
        label_part("T", "pre", 11, "right", -6.5, 2),
        label_part("T", "sub", 11, "left", 6.5, 2),
        title_b,
        title_r,
    ]
    return alt.layer(*layers).properties(width=W, height=H)


p1 = make_panel(P1_EQUI, P1_NONEQ, P1_EFFECT, 0)
p2 = make_panel(P2_EQUI, P2_NONEQ, P2_EFFECT, 1)
p3 = make_panel(P3_EQUI, P3_NONEQ, P3_EFFECT, 2)

chart = alt.vconcat(p1, p2, p3, spacing=143, bounds="flush").resolve_scale(
    color="independent"
).properties(
    padding={"left": 5, "top": 0, "right": 0, "bottom": 0},
    background="#ffffff",
).configure(font=FONT).configure_view(strokeWidth=0)

chart.save("out.html", embed_options={"renderer": "svg", "actions": False})
